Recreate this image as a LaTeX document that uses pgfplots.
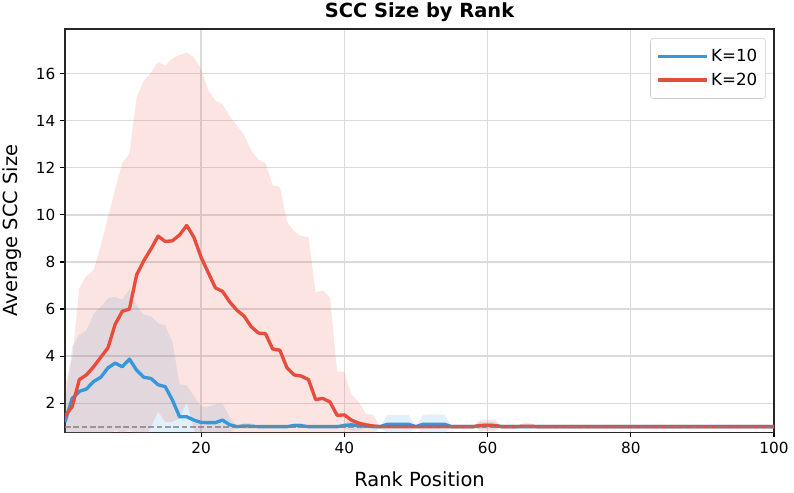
\documentclass[border=0pt]{standalone}
\usepackage{fontspec}
\setmainfont{DejaVu Sans}
\usepackage{pgfplots}
\usepackage{pgfplotstable}
\pgfplotsset{compat=1.18}
\usepgfplotslibrary{fillbetween}
\definecolor{kblue}{HTML}{3498DB}
\definecolor{kred}{HTML}{E74C3C}

% rank, K=10 mean/upper/lower, K=20 mean/upper/lower (mean +- std)
\pgfplotstableread{
x b bu bl r ru rl
1 1.2 2.0 0.4 1.45 2.7 0.2
2 2.2 4.4 0.0 1.85 3.9 -0.2
3 2.5 4.9 0.1 3.0 6.9 -0.9
4 2.6 5.1 0.1 3.2 7.4 -1.0
5 2.92 5.8 0.04 3.55 7.65 -0.55
6 3.1 6.1 0.1 3.95 8.7 -0.8
7 3.5 6.45 0.55 4.35 9.9 -1.2
8 3.7 6.52 0.88 5.35 11.1 -0.4
9 3.55 6.4 0.7 5.9 12.2 -0.4
10 3.87 6.85 0.89 6.0 12.6 -0.6
11 3.4 6.15 0.65 7.45 15.0 -0.1
12 3.1 5.75 0.45 8.05 15.7 0.4
13 3.05 5.7 0.4 8.55 16.05 1.0
14 2.78 5.4 0.16 9.1 16.5 1.65
15 2.7 5.3 0.1 8.87 16.35 1.2
16 2.13 4.6 -0.34 8.9 16.65 1.2
17 1.42 2.8 0.04 9.15 16.8 1.35
18 1.42 2.75 0.09 9.55 16.9 2.05
19 1.28 2.3 0.26 9.05 16.7 0.9
20 1.18 1.85 0.51 8.2 16.2 0.2
21 1.17 1.85 0.49 7.55 15.3 -0.2
22 1.17 1.95 0.39 6.9 14.85 -1.05
23 1.28 1.98 0.58 6.75 14.7 -1.2
24 1.08 1.4 0.76 6.3 14.2 -1.6
25 1.0 1.05 0.95 5.95 13.8 -1.9
26 1.03 1.15 0.91 5.7 13.4 -2.0
27 1.02 1.15 0.89 5.25 12.75 -2.25
28 1 1 1 4.98 12.35 -2.39
29 1 1 1 4.95 12.2 -2.3
30 1 1 1 4.3 11.25 -2.65
31 1 1 1 4.25 11.2 -2.7
32 1 1 1 3.5 9.7 -2.7
33 1.05 1.15 0.95 3.2 9.3 -2.9
34 1.04 1.15 0.93 3.15 9.1 -2.8
35 1 1 1 3.0 9.05 -3.05
36 1 1 1 2.15 6.7 -2.4
37 1 1 1 2.2 6.8 -2.4
38 1 1 1 2.05 6.5 -2.4
39 1 1 1 1.48 3.35 -0.39
40 1.05 1.15 0.95 1.5 3.33 -0.33
41 1.08 1.35 0.81 1.28 2.35 0.21
42 1.04 1.25 0.83 1.15 2.05 0.25
43 1.02 1.1 0.94 1.08 1.55 0.61
44 1 1 1 1.03 1.5 0.56
45 1 1 1 1 1 1
46 1.1 1.5 0.7 1 1 1
47 1.1 1.5 0.7 1 1 1
48 1.1 1.5 0.7 1 1 1
49 1.1 1.5 0.7 1 1 1
50 1 1 1 1 1 1
51 1.1 1.5 0.7 1 1 1
52 1.1 1.52 0.68 1 1 1
53 1.1 1.52 0.68 1 1 1
54 1.1 1.5 0.7 1 1 1
55 1 1 1 1 1 1
56 1 1 1 1 1 1
57 1 1 1 1 1 1
58 1 1 1 1 1 1
59 1.04 1.2 0.88 1.05 1.3 0.8
60 1.05 1.2 0.9 1.06 1.3 0.82
61 1.04 1.2 0.88 1.05 1.3 0.8
62 1 1 1 1 1 1
63 1 1 1 1 1 1
64 1 1 1 1 1 1
65 1 1 1 1.02 1.15 0.89
66 1 1 1 1.02 1.15 0.89
67 1 1 1 1 1 1
68 1 1 1 1 1 1
69 1 1 1 1 1 1
70 1 1 1 1 1 1
71 1 1 1 1 1 1
72 1 1 1 1 1 1
73 1 1 1 1 1 1
74 1 1 1 1 1 1
75 1 1 1 1 1 1
76 1 1 1 1 1 1
77 1 1 1 1 1 1
78 1 1 1 1 1 1
79 1 1 1 1 1 1
80 1 1 1 1 1 1
81 1 1 1 1 1 1
82 1 1 1 1 1 1
83 1 1 1 1 1 1
84 1 1 1 1 1 1
85 1 1 1 1 1 1
86 1 1 1 1 1 1
87 1 1 1 1 1 1
88 1 1 1 1 1 1
89 1 1 1 1 1 1
90 1 1 1 1 1 1
91 1 1 1 1 1 1
92 1 1 1 1 1 1
93 1 1 1 1 1 1
94 1 1 1 1 1 1
95 1 1 1 1 1 1
96 1 1 1 1 1 1
97 1 1 1 1 1 1
98 1 1 1 1 1 1
99 1 1 1 1 1 1
100 1 1 1 1 1 1
}\scc

\begin{document}
\begin{tikzpicture}
\begin{axis}[
  scale only axis,
  width=510.5pt, height=290.2pt,
  xmin=1, xmax=100, ymin=0.77, ymax=17.9,
  xtick={20,40,60,80,100}, ytick={2,4,6,8,10,12,14,16},
  xtick pos=bottom, ytick pos=left,
  tick align=outside, major tick length=3.5pt,
  tick style={black, line width=0.8pt},
  axis line style={black!85, line width=0.8pt},
  grid=major, grid style={gray!28, line width=0.9pt},
  /pgf/number format/assume math mode=true,
  tick label style={font=\fontsize{11}{13}\selectfont},
  xlabel={Rank Position}, ylabel={Average SCC Size},
  label style={font=\fontsize{14}{16}\selectfont},
  xlabel style={at={(axis description cs:0.5,-0.1166)}, anchor=center},
  ylabel style={at={(axis description cs:-0.0748,0.5)}, anchor=center},
  title={SCC Size by Rank},
  title style={font=\fontsize{14}{16}\selectfont\bfseries, at={(axis description cs:0.5,1)}, anchor=base, yshift=2.6pt},
  legend style={at={(0.9886,0.9776)}, anchor=north east, draw=black!20,
    rounded corners=2pt, fill=white, fill opacity=0.8, text opacity=1,
    font=\fontsize{12}{14}\selectfont, inner xsep=4pt, inner ysep=6pt, row sep=2.5pt},
  legend cell align=left,
  legend image code/.code={\draw[#1] (2pt,0pt) -- (29.6pt,0pt); \path (0pt,0pt) -- (35.3pt,0pt);},
]
\addplot[draw=none, name path=bu, forget plot] table[x=x, y=bu]{\scc};
\addplot[draw=none, name path=bl, forget plot] table[x=x, y=bl]{\scc};
\addplot[draw=none, name path=ru, forget plot] table[x=x, y=ru]{\scc};
\addplot[draw=none, name path=rl, forget plot] table[x=x, y=rl]{\scc};
\addplot[fill=kblue, fill opacity=0.15, draw=none, forget plot] fill between[of=bu and bl];
\addplot[fill=kred, fill opacity=0.15, draw=none, forget plot] fill between[of=ru and rl];

\addplot[kblue, line width=2.4pt, line join=round] table[x=x, y=b]{\scc};
\addlegendentry{K=10}
\addplot[kred, line width=2.4pt, line join=round] table[x=x, y=r]{\scc};
\addlegendentry{K=20}

\addplot[gray, opacity=0.75, line width=1.6pt, dash pattern=on 4pt off 2pt, forget plot] coordinates {(1,1) (100,1)};
\end{axis}
\pgfresetboundingbox
\path[use as bounding box] ([xshift=-46.8pt,yshift=-43.2pt]current axis.south west) rectangle ([xshift=14.4pt,yshift=20.9pt]current axis.north east);
\end{tikzpicture}
\end{document}
